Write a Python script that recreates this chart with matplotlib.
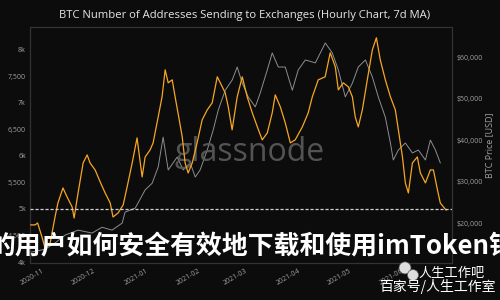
import matplotlib
matplotlib.use("Agg")
import matplotlib.pyplot as plt
import matplotlib.dates as mdates
from matplotlib.patches import Ellipse
from matplotlib.ticker import FixedLocator, FuncFormatter
import pandas as pd

# addresses sending to exchanges (7d MA)
addr_dates = [
    "2020-10-23", "2020-10-25 12:00", "2020-10-27", "2020-10-29 14:00", "2020-10-31 10:00",
    "2020-11-03 10:00", "2020-11-06 07:00", "2020-11-08", "2020-11-11", "2020-11-13 10:00",
    "2020-11-16 10:00", "2020-11-17 14:00", "2020-11-19 22:00", "2020-11-22 22:00", "2020-11-25 07:00",
    "2020-11-27", "2020-11-30", "2020-12-03", "2020-12-05 22:00", "2020-12-08 22:00",
    "2020-12-10 14:00", "2020-12-13 14:00", "2020-12-16 14:00", "2020-12-18 22:00", "2020-12-21 22:00",
    "2020-12-24 19:00", "2020-12-27 19:00", "2020-12-29 14:00", "2021-01-01 12:00", "2021-01-03 07:00",
    "2021-01-06 07:00", "2021-01-08 14:00", "2021-01-10 10:00", "2021-01-12 05:00", "2021-01-14 14:00",
    "2021-01-16 07:00", "2021-01-18", "2021-01-20 12:00", "2021-01-22 05:00", "2021-01-24",
    "2021-01-26 10:00", "2021-01-29 07:00", "2021-02-01 07:00", "2021-02-04 07:00", "2021-02-07 05:00",
    "2021-02-10 05:00", "2021-02-12", "2021-02-14 22:00", "2021-02-16 17:00", "2021-02-19",
    "2021-02-22", "2021-02-25", "2021-02-27 22:00", "2021-03-02 22:00", "2021-03-05 22:00",
    "2021-03-08 19:00", "2021-03-11 19:00", "2021-03-14 17:00", "2021-03-16 12:00", "2021-03-19 12:00",
    "2021-03-22 10:00", "2021-03-25 10:00", "2021-03-28 07:00", "2021-04-01 12:00", "2021-04-05",
    "2021-04-07 10:00", "2021-04-10 22:00", "2021-04-15", "2021-04-18", "2021-04-21",
    "2021-04-22 19:00", "2021-04-25 17:00", "2021-04-28 17:00", "2021-05-01 02:00", "2021-05-02 19:00",
    "2021-05-04 14:00", "2021-05-07", "2021-05-09 22:00", "2021-05-12 22:00", "2021-05-15 07:00",
    "2021-05-17 14:00", "2021-05-20 14:00", "2021-05-23 14:00", "2021-05-26 12:00", "2021-05-28 07:00",
    "2021-05-30 17:00", "2021-06-01 10:00", "2021-06-03 05:00", "2021-06-05 14:00", "2021-06-08 12:00",
    "2021-06-10 07:00", "2021-06-13 07:00", "2021-06-16 05:00", "2021-06-18", "2021-06-20 10:00",
    "2021-06-22 02:00", "2021-06-24", "2021-06-25 12:00",
]
addr_values = [
    4700, 4700, 4736, 4472, 4264,
    4358, 4849, 5113, 5396, 5226,
    5038, 4830, 5302, 5868, 6019,
    5868, 5736, 5510, 5302, 5113,
    4849, 4925, 5076, 5415, 5868,
    6340, 5604, 5981, 6113, 6246,
    6736, 7114, 7623, 7378, 7434,
    7114, 6812, 6359, 5868, 5679,
    5868, 6246, 6680, 6868, 7000,
    7491, 7378, 7189, 6925, 6491,
    7114, 7491, 7114, 6812, 6547,
    6302, 6434, 6812, 7151, 6925,
    6623, 6246, 6302, 6547, 6812,
    7114, 7434, 7491, 7944, 7680,
    7246, 7378, 7302, 7114, 6736,
    6547, 6868, 7434, 8000, 8227,
    7812, 7434, 7114, 6868, 6491,
    5981, 5491, 5302, 5868, 5981,
    5679, 5491, 5736, 5736, 5359,
    5113, 5038, 4980,
]

# BTC price (USD)
price_dates = [
    "2020-10-23", "2020-10-31 10:00", "2020-11-06 07:00", "2020-11-12 05:00", "2020-11-19 22:00",
    "2020-11-28 05:00", "2020-12-04 02:00", "2020-12-10", "2020-12-16", "2020-12-17 17:00",
    "2020-12-23 17:00", "2020-12-29 14:00", "2021-01-02 17:00", "2021-01-06 07:00", "2021-01-09 05:00",
    "2021-01-12 05:00", "2021-01-17 12:00", "2021-01-21 02:00", "2021-01-25 05:00", "2021-01-28 05:00",
    "2021-01-31 02:00", "2021-02-04 07:00", "2021-02-07 19:00", "2021-02-10 19:00", "2021-02-14 22:00",
    "2021-02-19 02:00", "2021-02-22", "2021-02-25", "2021-02-28 12:00", "2021-03-04 17:00",
    "2021-03-07 14:00", "2021-03-11 19:00", "2021-03-14 17:00", "2021-03-18 07:00", "2021-03-22 10:00",
    "2021-03-26 14:00", "2021-03-30 02:00", "2021-04-03 07:00", "2021-04-09 05:00", "2021-04-15 02:00",
    "2021-04-19 05:00", "2021-04-22 19:00", "2021-04-26 22:00", "2021-05-01 02:00", "2021-05-04 14:00",
    "2021-05-08 19:00", "2021-05-12 22:00", "2021-05-16 10:00", "2021-05-20 14:00", "2021-05-23 14:00",
    "2021-05-25 07:00", "2021-05-28 07:00", "2021-06-01 10:00", "2021-06-05 14:00", "2021-06-09 02:00",
    "2021-06-13 07:00", "2021-06-16 05:00", "2021-06-19 05:00", "2021-06-22 02:00",
]
price_values = [
    13000, 13700, 15200, 17100, 18300,
    17600, 19000, 18300, 20000, 22650,
    23600, 28000, 29600, 33500, 40700,
    32800, 35900, 32800, 34500, 31100,
    32800, 37600, 42400, 47200, 52000,
    54500, 57600, 53700, 50400, 48000,
    51300, 56900, 61000, 57600, 57600,
    52000, 56900, 59300, 58600, 63400,
    61000, 56900, 50400, 53700, 57600,
    59300, 55200, 50400, 45500, 39300,
    35200, 37600, 39300, 36900, 37600,
    35200, 40000, 37600, 34500,
]

addr_ticks = [4000, 4500, 5000, 5500, 6000, 6500, 7000, 7500, 8000]
addr_tick_labels = ["4k", "4,500", "5k", "5,500", "6k", "6,500", "7k", "7,500", "8k"]
price_ticks = [20000, 30000, 40000, 50000, 60000]
threshold = 5000

title = "BTC Number of Addresses Sending to Exchanges (Hourly Chart, 7d MA)"
overlay = "的用户如何安全有效地下载和使用imToken钱"

plt.rcParams['font.family'] = ['Open Sans', 'Noto Sans CJK SC', 'DejaVu Sans']
CJK = ['Noto Sans CJK SC', 'DejaVu Sans']

BG = '#0c0c0c'
ORANGE = '#f5a623'
GREY = '#a4a4a8'
TXT = '#a0a0a0'

fig = plt.figure(figsize=(5, 3), dpi=100, facecolor=BG)
ax = fig.add_axes([0.06, 0.123, 0.844, 0.787])
ax.set_facecolor(BG)
ax2 = ax.twinx()

ax2.plot(pd.to_datetime(price_dates, format='ISO8601'), price_values,
         color=GREY, lw=0.7, alpha=0.85, zorder=1)
ax.plot(pd.to_datetime(addr_dates, format='ISO8601'), addr_values, color=ORANGE, lw=0.9, zorder=3)
ax.axhline(threshold, color='#d0d0d0', lw=0.9, ls=(0, (2.5, 1.5)), zorder=4)
ax.set_zorder(ax2.get_zorder() + 1)
ax.patch.set_visible(False)
ax2.patch.set_facecolor(BG)

ax.set_ylim(3980, 8430)
ax2.set_ylim(10360, 67240)
ax.set_xlim(pd.Timestamp("2020-10-22 12:00"), pd.Timestamp("2021-06-29"))

ax.yaxis.set_major_locator(FixedLocator(addr_ticks))
ax.set_yticklabels(addr_tick_labels)
ax2.yaxis.set_major_locator(FixedLocator(price_ticks))
ax2.yaxis.set_major_formatter(FuncFormatter(lambda v, p: f"${v:,.0f}"))
ax2.set_ylabel("BTC Price [USD]", color=TXT, fontsize=6.5, labelpad=2)

ax.xaxis.set_major_locator(mdates.MonthLocator())
ax.xaxis.set_major_formatter(mdates.DateFormatter("%Y-%m"))
for lab in ax.get_xticklabels():
    lab.set_rotation(30)
    lab.set_ha('right')

for a in (ax, ax2):
    a.tick_params(length=0, colors=TXT, labelsize=5, pad=3)
    for s in a.spines.values():
        s.set_color('#333333')
        s.set_linewidth(0.8)

fig.text(0.49, 0.948, title, color='#e6e6e6', fontsize=8.1, ha='center', va='center')

# glassnode watermark
ax.text(0.52, 0.47, "glassnode", transform=ax.transAxes, color='#5c5c5c', alpha=0.9,
        fontsize=23, ha='center', va='center', zorder=2)

# overlaid article title
fig.text(0.504, 0.178, overlay, color='white', fontsize=18.6, fontweight='bold',
         family=CJK, ha='center', va='center', zorder=10)

# source stamp bottom right
for cx, cy, w in [(0.81, 0.107, 0.024), (0.826, 0.083, 0.022)]:
    fig.patches.append(Ellipse((cx, cy), w, w * 5 / 3, transform=fig.transFigure,
                               facecolor='#dddddd', edgecolor='#555555', lw=0.5, zorder=11))
fig.text(0.904, 0.09, "人生工作吧", color='white', fontsize=9.5, ha='center', va='center',
         family=CJK, zorder=12)
fig.text(0.875, 0.045, "百家号/人生工作室", color='white', fontsize=10, ha='center', va='center',
         family=CJK, zorder=12)

fig.savefig("out.png", dpi=100, facecolor=BG)
